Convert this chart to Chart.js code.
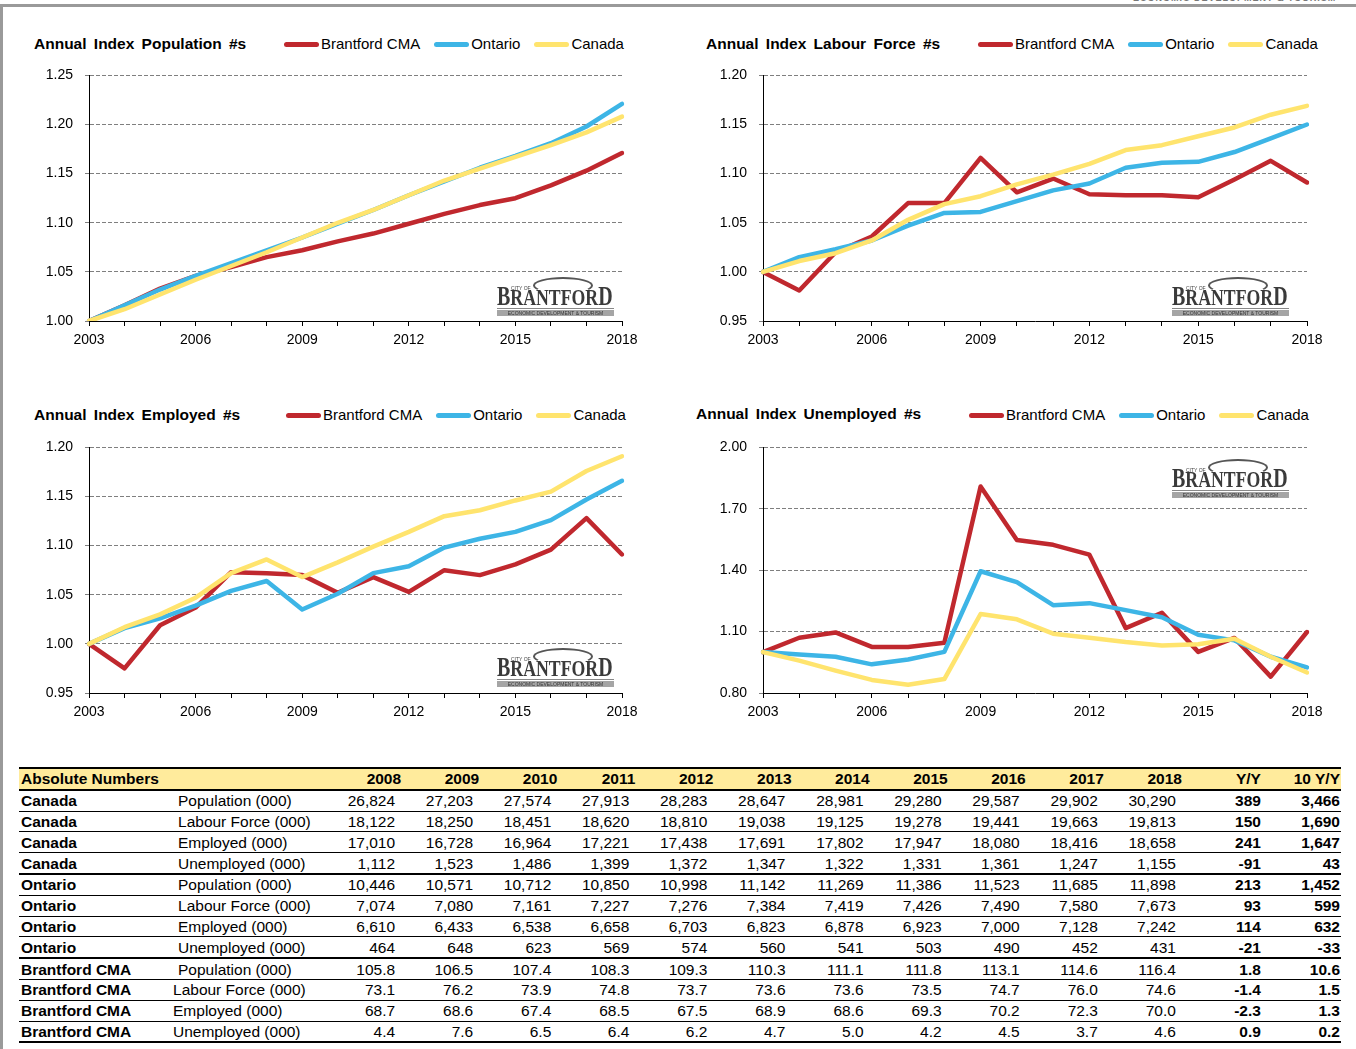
<!DOCTYPE html>
<html>
<head>
<meta charset="utf-8">
<script src="https://cdn.jsdelivr.net/npm/chart.js@4.4.1/dist/chart.umd.min.js"></script>
<style>
  html, body { margin: 0; padding: 0; background: #fff; }
  body { width: 1356px; height: 1049px; position: relative; overflow: hidden; font-family: "Liberation Sans", Arial, sans-serif; color: #000; }
  .frame-top { position: absolute; left: 0; top: 4px; width: 1356px; height: 3px; background: #9a9a9a; }
  .frame-left { position: absolute; left: 0; top: 4px; width: 3px; height: 1045px; background: #9a9a9a; }
  .corner { position: absolute; left: 1133px; top: -7px; font-size: 9px; font-weight: bold; color: #777; letter-spacing: 1px; white-space: nowrap; }
  canvas { position: absolute; }
  .title { position: absolute; font-weight: bold; font-size: 15.5px; line-height: 18px; word-spacing: 3px; white-space: nowrap; }
  .legend { position: absolute; display: flex; align-items: center; font-size: 15px; line-height: 18px; white-space: nowrap; }
  .legend .it { display: flex; align-items: center; margin-right: 14px; }
  .legend .sw { width: 35px; height: 5px; border-radius: 3px; margin-right: 2px; }
  .logo { position: absolute; width: 117px; height: 42px; }
  .logo .arc { position: absolute; left: 36px; top: 1px; width: 56px; height: 13px; border: 2px solid #555; border-bottom-color: transparent; border-radius: 50%; }
  .logo .city { position: absolute; left: 14px; top: 9px; font-size: 5px; color: #444; }
  .logo .name { position: absolute; left: 0; top: 8px; font-family: "Liberation Serif", "DejaVu Serif", serif; font-weight: bold; font-size: 24px; line-height: 25px; color: #3a3a3a; transform: scaleX(0.74); transform-origin: left top; white-space: nowrap; }
  .logo .name .big { font-size: 27px; }
  .logo .rule { position: absolute; left: 0; top: 32px; width: 117px; height: 1px; background: #888; }
  .logo .bar { position: absolute; left: 0; top: 34px; width: 117px; height: 6px; background: #a5a5a5; color: #333; font-size: 5px; line-height: 6px; text-align: center; white-space: nowrap; overflow: hidden; }
  #tbl { position: absolute; left: 19px; top: 767px; width: 1322px; border-collapse: separate; border-spacing: 0; table-layout: fixed; font-size: 15.5px; border-top: 2.5px solid #000; }
  #tbl td { height: 19.8px; padding: 0; line-height: 19px; border-bottom: 1px solid #000; white-space: nowrap; overflow: visible; }
  #tbl tr.head td { background: #ffeb9c; font-weight: bold; border-bottom: 2px solid #000; }
  #tbl tr.sep td { border-bottom: 2px solid #000; }
  #tbl tr.last td { border-bottom: 2.5px solid #000; }
  #tbl td.reg { font-weight: bold; padding-left: 2px; }
  #tbl td.mea { padding-left: 2px; }
  #tbl td.mea.shift { padding-left: 0; text-indent: -3px; }
  #tbl td.num { text-align: right; padding-right: 7px; }
  #tbl tr.head td.num { padding-right: 1px; }
  #tbl td.yy { text-align: right; padding-right: 1px; font-weight: bold; }
</style>
</head>
<body>
<div class="frame-top"></div>
<div class="frame-left"></div>
<div class="corner">ECONOMIC DEVELOPMENT &amp; TOURISM</div>

<canvas id="c1" width="640" height="305" style="left:10px;top:55px"></canvas>
<canvas id="c2" width="660" height="305" style="left:684px;top:55px"></canvas>
<canvas id="c3" width="640" height="305" style="left:10px;top:427px"></canvas>
<canvas id="c4" width="660" height="305" style="left:684px;top:427px"></canvas>

<table id="tbl"></table>

<script>
// index values, 2003 = 1.00
var years = ['2003', '2004', '2005', '2006', '2007', '2008', '2009', '2010', '2011', '2012', '2013', '2014', '2015', '2016', '2017', '2018']
var seriesNames = ['Brantford CMA', 'Ontario', 'Canada']
var seriesColors = ['#c0282e', '#3db5e6', '#ffe46e']

var popBrantford = [1.000, 1.016, 1.033, 1.046, 1.055, 1.065, 1.072, 1.081, 1.089, 1.099, 1.109, 1.118, 1.125, 1.138, 1.153, 1.171]
var popOntario = [1.000, 1.016, 1.032, 1.046, 1.059, 1.072, 1.085, 1.099, 1.113, 1.128, 1.142, 1.156, 1.168, 1.181, 1.198, 1.221]
var popCanada = [1.000, 1.012, 1.027, 1.042, 1.056, 1.070, 1.085, 1.100, 1.113, 1.128, 1.143, 1.155, 1.167, 1.179, 1.192, 1.208]

var lfBrantford = [1.000, 0.981, 1.020, 1.036, 1.070, 1.070, 1.116, 1.081, 1.095, 1.079, 1.078, 1.078, 1.076, 1.094, 1.113, 1.091]
var lfOntario = [1.000, 1.015, 1.023, 1.032, 1.047, 1.060, 1.061, 1.072, 1.083, 1.090, 1.106, 1.111, 1.112, 1.122, 1.136, 1.150]
var lfCanada = [1.000, 1.011, 1.019, 1.032, 1.053, 1.069, 1.077, 1.089, 1.099, 1.110, 1.124, 1.129, 1.138, 1.147, 1.160, 1.169]

var empBrantford = [1.000, 0.975, 1.019, 1.037, 1.073, 1.072, 1.070, 1.052, 1.068, 1.053, 1.075, 1.070, 1.081, 1.096, 1.128, 1.091]
var empOntario = [1.000, 1.016, 1.026, 1.039, 1.054, 1.064, 1.035, 1.051, 1.072, 1.079, 1.098, 1.107, 1.114, 1.126, 1.147, 1.166]
var empCanada = [1.000, 1.017, 1.030, 1.047, 1.072, 1.086, 1.068, 1.083, 1.099, 1.114, 1.130, 1.136, 1.146, 1.155, 1.176, 1.191]

var unBrantford = [1.000, 1.070, 1.096, 1.025, 1.025, 1.046, 1.809, 1.548, 1.524, 1.476, 1.117, 1.192, 1.001, 1.069, 0.880, 1.098]
var unOntario = [1.000, 0.988, 0.977, 0.940, 0.964, 1.001, 1.395, 1.342, 1.229, 1.239, 1.205, 1.170, 1.085, 1.057, 0.977, 0.925]
var unCanada = [1.000, 0.958, 0.909, 0.864, 0.840, 0.868, 1.186, 1.160, 1.090, 1.070, 1.049, 1.032, 1.038, 1.065, 0.977, 0.900]

// absolute numbers table
var tableYears = ['2008', '2009', '2010', '2011', '2012', '2013', '2014', '2015', '2016', '2017', '2018']
var tableRegions = ['Canada', 'Canada', 'Canada', 'Canada', 'Ontario', 'Ontario', 'Ontario', 'Ontario', 'Brantford CMA', 'Brantford CMA', 'Brantford CMA', 'Brantford CMA']
var tableMeasures = ['Population (000)', 'Labour Force (000)', 'Employed (000)', 'Unemployed (000)', 'Population (000)', 'Labour Force (000)', 'Employed (000)', 'Unemployed (000)', 'Population (000)', 'Labour Force (000)', 'Employed (000)', 'Unemployed (000)']
var tableValues = [
  ['26,824', '27,203', '27,574', '27,913', '28,283', '28,647', '28,981', '29,280', '29,587', '29,902', '30,290'],
  ['18,122', '18,250', '18,451', '18,620', '18,810', '19,038', '19,125', '19,278', '19,441', '19,663', '19,813'],
  ['17,010', '16,728', '16,964', '17,221', '17,438', '17,691', '17,802', '17,947', '18,080', '18,416', '18,658'],
  ['1,112', '1,523', '1,486', '1,399', '1,372', '1,347', '1,322', '1,331', '1,361', '1,247', '1,155'],
  ['10,446', '10,571', '10,712', '10,850', '10,998', '11,142', '11,269', '11,386', '11,523', '11,685', '11,898'],
  ['7,074', '7,080', '7,161', '7,227', '7,276', '7,384', '7,419', '7,426', '7,490', '7,580', '7,673'],
  ['6,610', '6,433', '6,538', '6,658', '6,703', '6,823', '6,878', '6,923', '7,000', '7,128', '7,242'],
  ['464', '648', '623', '569', '574', '560', '541', '503', '490', '452', '431'],
  ['105.8', '106.5', '107.4', '108.3', '109.3', '110.3', '111.1', '111.8', '113.1', '114.6', '116.4'],
  ['73.1', '76.2', '73.9', '74.8', '73.7', '73.6', '73.6', '73.5', '74.7', '76.0', '74.6'],
  ['68.7', '68.6', '67.4', '68.5', '67.5', '68.9', '68.6', '69.3', '70.2', '72.3', '70.0'],
  ['4.4', '7.6', '6.5', '6.4', '6.2', '4.7', '5.0', '4.2', '4.5', '3.7', '4.6']
]
var tableYY = ['389', '150', '241', '-91', '213', '93', '114', '-21', '1.8', '-1.4', '-2.3', '0.9']
var table10YY = ['3,466', '1,690', '1,647', '43', '1,452', '599', '632', '-33', '10.6', '1.5', '1.3', '0.2']

Chart.defaults.font.family = '"Liberation Sans", Arial, sans-serif'
Chart.defaults.font.size = 14
Chart.defaults.color = '#000'

function lineChart(id, series, yMin, yMax, yStep, padRight) {
  return new Chart(document.getElementById(id), {
    type: 'line',
    data: {
      labels: years,
      datasets: series.map(function (s, i) {
        return {
          label: seriesNames[i],
          data: s,
          borderColor: seriesColors[i],
          backgroundColor: seriesColors[i],
          borderWidth: 4.5,
          pointRadius: 0,
          tension: 0,
          borderJoinStyle: 'round',
          borderCapStyle: 'round',
          order: 3 - i,
        }
      }),
    },
    options: {
      responsive: false,
      animation: false,
      layout: { padding: { left: 0, top: 18, right: padRight, bottom: 0 } },
      plugins: { legend: { display: false }, tooltip: { enabled: false } },
      scales: {
        x: {
          grid: { drawOnChartArea: false, tickLength: 5, color: '#000', tickColor: '#000' },
          border: { color: '#000', width: 1 },
          ticks: {
            autoSkip: false,
            maxRotation: 0,
            padding: 6,
            callback: function (v, i) { return i % 3 === 0 ? this.getLabelForValue(v) : '' },
          },
          afterFit: function (s) { s.height = 39 },
        },
        y: {
          min: yMin,
          max: yMax,
          ticks: { stepSize: yStep, padding: 12, callback: function (v) { return v.toFixed(2) } },
          grid: {
            color: function (c) { return c.index === 0 ? 'rgba(0,0,0,0)' : '#7f7f7f' },
            tickColor: '#7f7f7f',
            tickLength: 4,
          },
          border: { color: '#000', width: 1, dash: [4, 2] },
          afterFit: function (s) { s.width = 79 },
        },
      },
    },
  })
}

lineChart('c1', [popBrantford, popOntario, popCanada], 1.0, 1.25, 0.05, 28)
lineChart('c2', [lfBrantford, lfOntario, lfCanada], 0.95, 1.20, 0.05, 37)
lineChart('c3', [empBrantford, empOntario, empCanada], 0.95, 1.20, 0.05, 28)
lineChart('c4', [unBrantford, unOntario, unCanada], 0.80, 2.00, 0.30, 37)

// titles, legends, logos
function addTitle(text, left, top) {
  var d = document.createElement('div')
  d.className = 'title'
  d.style.left = left + 'px'
  d.style.top = top + 'px'
  d.textContent = text
  document.body.appendChild(d)
}

function addLegend(left, top) {
  var d = document.createElement('div')
  d.className = 'legend'
  d.style.left = left + 'px'
  d.style.top = top + 'px'
  seriesNames.forEach(function (name, i) {
    var it = document.createElement('div')
    it.className = 'it'
    it.innerHTML = '<span class="sw" style="background:' + seriesColors[i] + '"></span><span>' + name + '</span>'
    d.appendChild(it)
  })
  document.body.appendChild(d)
}

function addLogo(left, top) {
  var d = document.createElement('div')
  d.className = 'logo'
  d.style.left = left + 'px'
  d.style.top = top + 'px'
  d.innerHTML = '<div class="arc"></div><div class="city">CITY OF</div>' +
    '<div class="name"><span class="big">B</span>RANTFOR<span class="big">D</span></div>' +
    '<div class="rule"></div><div class="bar">ECONOMIC DEVELOPMENT &amp; TOURISM</div>'
  document.body.appendChild(d)
}

addTitle('Annual Index Population #s', 34, 35)
addTitle('Annual Index Labour Force #s', 706, 35)
addTitle('Annual Index Employed #s', 34, 406)
addTitle('Annual Index Unemployed #s', 696, 405)

addLegend(284, 35)
addLegend(978, 35)
addLegend(286, 406)
addLegend(969, 406)

addLogo(497, 276)
addLogo(1172, 276)
addLogo(497, 647)
addLogo(1172, 458)

// table
var tbl = document.getElementById('tbl')
var html = '<colgroup><col style="width:157px"><col style="width:148px">'
tableYears.forEach(function () { html += '<col style="width:78.09px">' })
html += '<col style="width:79px"><col style="width:79px"></colgroup>'
html += '<tr class="head"><td class="reg" colspan="2">Absolute Numbers</td>'
tableYears.forEach(function (y) { html += '<td class="num">' + y + '</td>' })
html += '<td class="yy">Y/Y</td><td class="yy">10 Y/Y</td></tr>'
tableValues.forEach(function (row, r) {
  var cls = r === 3 || r === 7 ? 'sep' : (r === tableValues.length - 1 ? 'last' : '')
  var shift = r > 8 ? ' shift' : ''
  html += '<tr class="' + cls + '"><td class="reg">' + tableRegions[r] + '</td><td class="mea' + shift + '">' + tableMeasures[r] + '</td>'
  row.forEach(function (v) { html += '<td class="num">' + v + '</td>' })
  html += '<td class="yy">' + tableYY[r] + '</td><td class="yy">' + table10YY[r] + '</td></tr>'
})
tbl.innerHTML = html
</script>
</body>
</html>
